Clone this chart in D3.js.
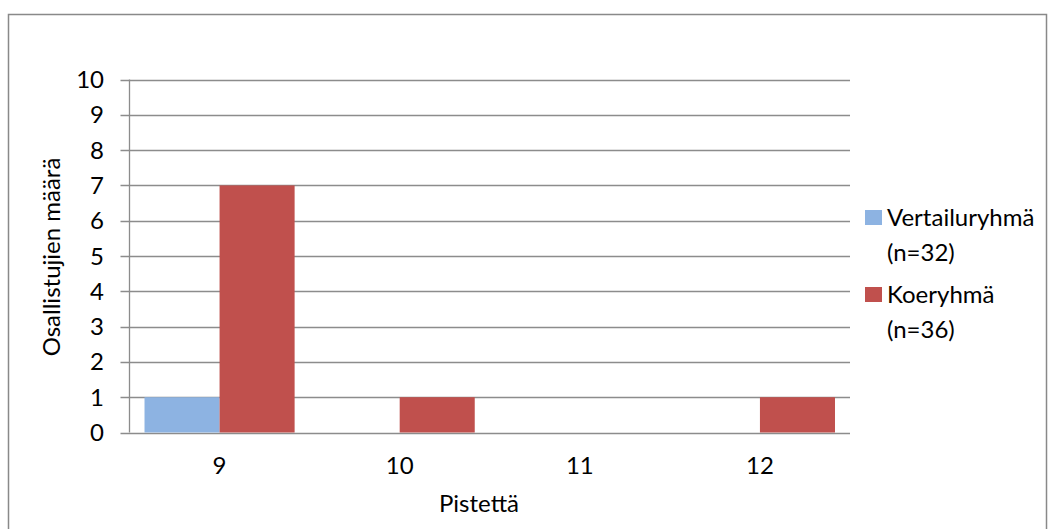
<!DOCTYPE html>
<html>
<head>
<meta charset="utf-8">
<script src="https://cdn.jsdelivr.net/npm/d3@7"></script>
<style>
  body { margin: 0; background: #fff; }
  text { font-family: Lato, "Liberation Sans", sans-serif; fill: #000; }
</style>
</head>
<body>
<div class="chart"></div>
<script>
var categories = ["9", "10", "11", "12"];
var seriesNames = ["Vertailuryhmä", "Koeryhmä"];
var seriesNotes = ["(n=32)", "(n=36)"];
var vertailu = [1, 0, 0, 0];
var koe = [7, 1, 0, 1];
var yTicks = [0, 1, 2, 3, 4, 5, 6, 7, 8, 9, 10];
var colors = ["#8DB3E2", "#C0504D"];

var width = 1049;
var height = 529;
var fontSize = "24px";

var svg = d3
  .select(".chart")
  .append("svg")
  .attr("width", width)
  .attr("height", height);

// outer frame
svg
  .append("rect")
  .attr("x", 8.5)
  .attr("y", 14.5)
  .attr("width", 1038)
  .attr("height", 530)
  .attr("fill", "none")
  .attr("stroke", "#898989")
  .attr("stroke-width", 1.5);

var plotLeft = 129.5, plotRight = 850, plotTop = 79.5, plotBottom = 432.5;

var x = d3.scaleBand().domain(categories).range([plotLeft, plotRight]);
var y = d3.scaleLinear().domain([0, 10]).range([plotBottom, plotTop]);

var grid = svg.append("g");
grid
  .selectAll("line")
  .data(yTicks)
  .enter()
  .append("line")
  .attr("x1", plotLeft - 9)
  .attr("x2", plotRight)
  .attr("y1", function (d) { return Math.round(y(d)) + 0.5; })
  .attr("y2", function (d) { return Math.round(y(d)) + 0.5; })
  .attr("stroke", "#8c8c8c")
  .attr("stroke-width", 1.3);

grid
  .append("line")
  .attr("x1", plotLeft)
  .attr("x2", plotLeft)
  .attr("y1", plotTop)
  .attr("y2", plotBottom)
  .attr("stroke", "#8c8c8c")
  .attr("stroke-width", 1.3);

// bars, gap width 40%
var rows = categories.map(function (c, i) {
  return { cat: c, values: [vertailu[i], koe[i]] };
});
var barW = x.bandwidth() / (2 + 0.4);
var bars = svg.append("g");
rows.forEach(function (r) {
  r.values.forEach(function (v, k) {
    if (v == 0) return;
    bars
      .append("rect")
      .attr("x", x(r.cat) + barW * 0.2 + k * barW)
      .attr("y", y(v))
      .attr("width", barW)
      .attr("height", y(0) - y(v))
      .attr("fill", colors[k]);
  });
});

// y labels
svg
  .append("g")
  .selectAll("text")
  .data(yTicks)
  .enter()
  .append("text")
  .attr("x", 104)
  .attr("y", function (d) { return y(d) + 8.5; })
  .attr("text-anchor", "end")
  .style("font-size", fontSize)
  .text(function (d) { return d; });

// x labels
svg
  .append("g")
  .selectAll("text")
  .data(categories)
  .enter()
  .append("text")
  .attr("x", function (d) { return x(d) + x.bandwidth() / 2; })
  .attr("y", 474)
  .attr("text-anchor", "middle")
  .style("font-size", fontSize)
  .text(function (d) { return d; });

svg
  .append("text")
  .attr("x", 479)
  .attr("y", 512)
  .attr("text-anchor", "middle")
  .style("font-size", fontSize)
  .text("Pistettä");

svg
  .append("text")
  .attr("transform", "translate(60,257) rotate(-90)")
  .attr("text-anchor", "middle")
  .style("font-size", fontSize)
  .text("Osallistujien määrä");

// legend
var legend = svg.append("g");
seriesNames.forEach(function (name, i) {
  var ly = 210 + i * 77;
  legend
    .append("rect")
    .attr("x", 865)
    .attr("y", ly)
    .attr("width", 17)
    .attr("height", 15)
    .attr("fill", colors[i]);
  legend
    .append("text")
    .attr("x", 887)
    .attr("y", ly + 16)
    .style("font-size", fontSize)
    .text(name);
  legend
    .append("text")
    .attr("x", 887)
    .attr("y", ly + 51)
    .style("font-size", fontSize)
    .text(seriesNotes[i]);
});
</script>
</body>
</html>
